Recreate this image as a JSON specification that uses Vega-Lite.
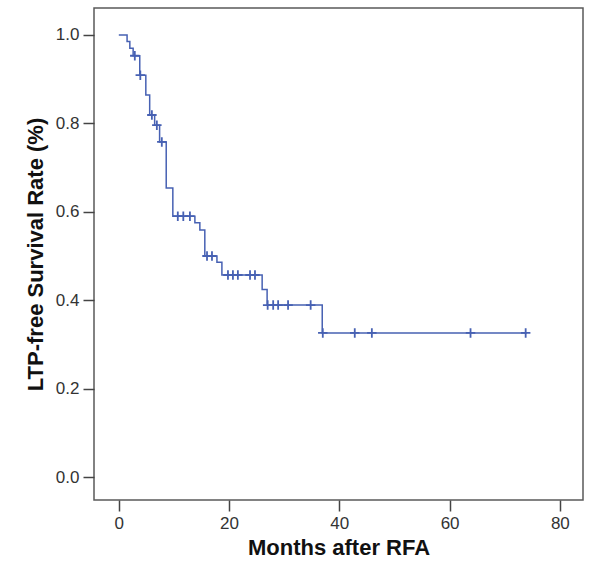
{
  "$schema": "https://vega.github.io/schema/vega-lite/v6.json",
  "width": 489,
  "height": 492,
  "autosize": {"type": "none"},
  "padding": {"left": 94, "top": 8, "right": 18, "bottom": 66},
  "background": "white",
  "config": {
    "view": {"stroke": "#5a5a5a", "strokeWidth": 1.5},
    "font": "Liberation Sans",
    "axis": {
      "domain": false,
      "grid": false,
      "tickColor": "#444444",
      "tickWidth": 1.5,
      "tickSize": 11,
      "labelFont": "Liberation Sans",
      "labelFontSize": 17,
      "labelColor": "#333333",
      "labelPadding": 4,
      "titleFont": "Liberation Sans",
      "titleFontSize": 22,
      "titleFontWeight": "bold",
      "titleColor": "#111111"
    }
  },
  "datasets": {
    "curve": [
      {"t": 0, "s": 1.0},
      {"t": 1.5, "s": 0.985},
      {"t": 2.0, "s": 0.97},
      {"t": 2.6, "s": 0.953},
      {"t": 3.8, "s": 0.909},
      {"t": 4.9, "s": 0.864},
      {"t": 5.6, "s": 0.819},
      {"t": 6.5, "s": 0.796},
      {"t": 7.4, "s": 0.758},
      {"t": 8.6, "s": 0.654},
      {"t": 9.8, "s": 0.59},
      {"t": 13.8, "s": 0.575},
      {"t": 14.7, "s": 0.559},
      {"t": 15.6, "s": 0.5},
      {"t": 17.8, "s": 0.486},
      {"t": 18.7, "s": 0.457},
      {"t": 26.0, "s": 0.424},
      {"t": 26.9, "s": 0.389},
      {"t": 36.9, "s": 0.326},
      {"t": 74.0, "s": 0.326}
    ],
    "censor": [
      {"t": 2.9, "s": 0.953},
      {"t": 3.9, "s": 0.909},
      {"t": 6.0, "s": 0.819},
      {"t": 6.9, "s": 0.796},
      {"t": 7.8, "s": 0.758},
      {"t": 10.7, "s": 0.59},
      {"t": 11.7, "s": 0.59},
      {"t": 12.9, "s": 0.59},
      {"t": 16.0, "s": 0.5},
      {"t": 16.9, "s": 0.5},
      {"t": 19.8, "s": 0.457},
      {"t": 20.7, "s": 0.457},
      {"t": 21.6, "s": 0.457},
      {"t": 23.8, "s": 0.457},
      {"t": 24.7, "s": 0.457},
      {"t": 27.0, "s": 0.389},
      {"t": 28.0, "s": 0.389},
      {"t": 28.9, "s": 0.389},
      {"t": 30.7, "s": 0.389},
      {"t": 34.8, "s": 0.389},
      {"t": 37.0, "s": 0.326},
      {"t": 42.8, "s": 0.326},
      {"t": 45.9, "s": 0.326},
      {"t": 63.8, "s": 0.326},
      {"t": 73.8, "s": 0.326}
    ]
  },
  "layer": [
    {
      "data": {"name": "curve"},
      "mark": {"type": "line", "interpolate": "step-after", "color": "#4761b3", "strokeWidth": 1.5},
      "encoding": {
        "x": {
          "field": "t", "type": "quantitative",
          "scale": {"domain": [-4.5, 84.2], "nice": false, "zero": false},
          "axis": {"values": [0, 20, 40, 60, 80], "title": "Months after RFA", "titlePadding": 6}
        },
        "y": {
          "field": "s", "type": "quantitative",
          "scale": {"domain": [-0.052, 1.061], "nice": false, "zero": false},
          "axis": {"values": [0, 0.2, 0.4, 0.6, 0.8, 1.0], "format": ".1f", "title": "LTP-free Survival Rate (%)", "titlePadding": 8}
        }
      }
    },
    {
      "data": {"name": "censor"},
      "mark": {"type": "point", "shape": "M-1,0H1M0,-1V1", "filled": false, "color": "#4761b3", "strokeWidth": 1.8, "size": 90, "opacity": 1},
      "encoding": {
        "x": {"field": "t", "type": "quantitative"},
        "y": {"field": "s", "type": "quantitative"}
      }
    }
  ]
}
